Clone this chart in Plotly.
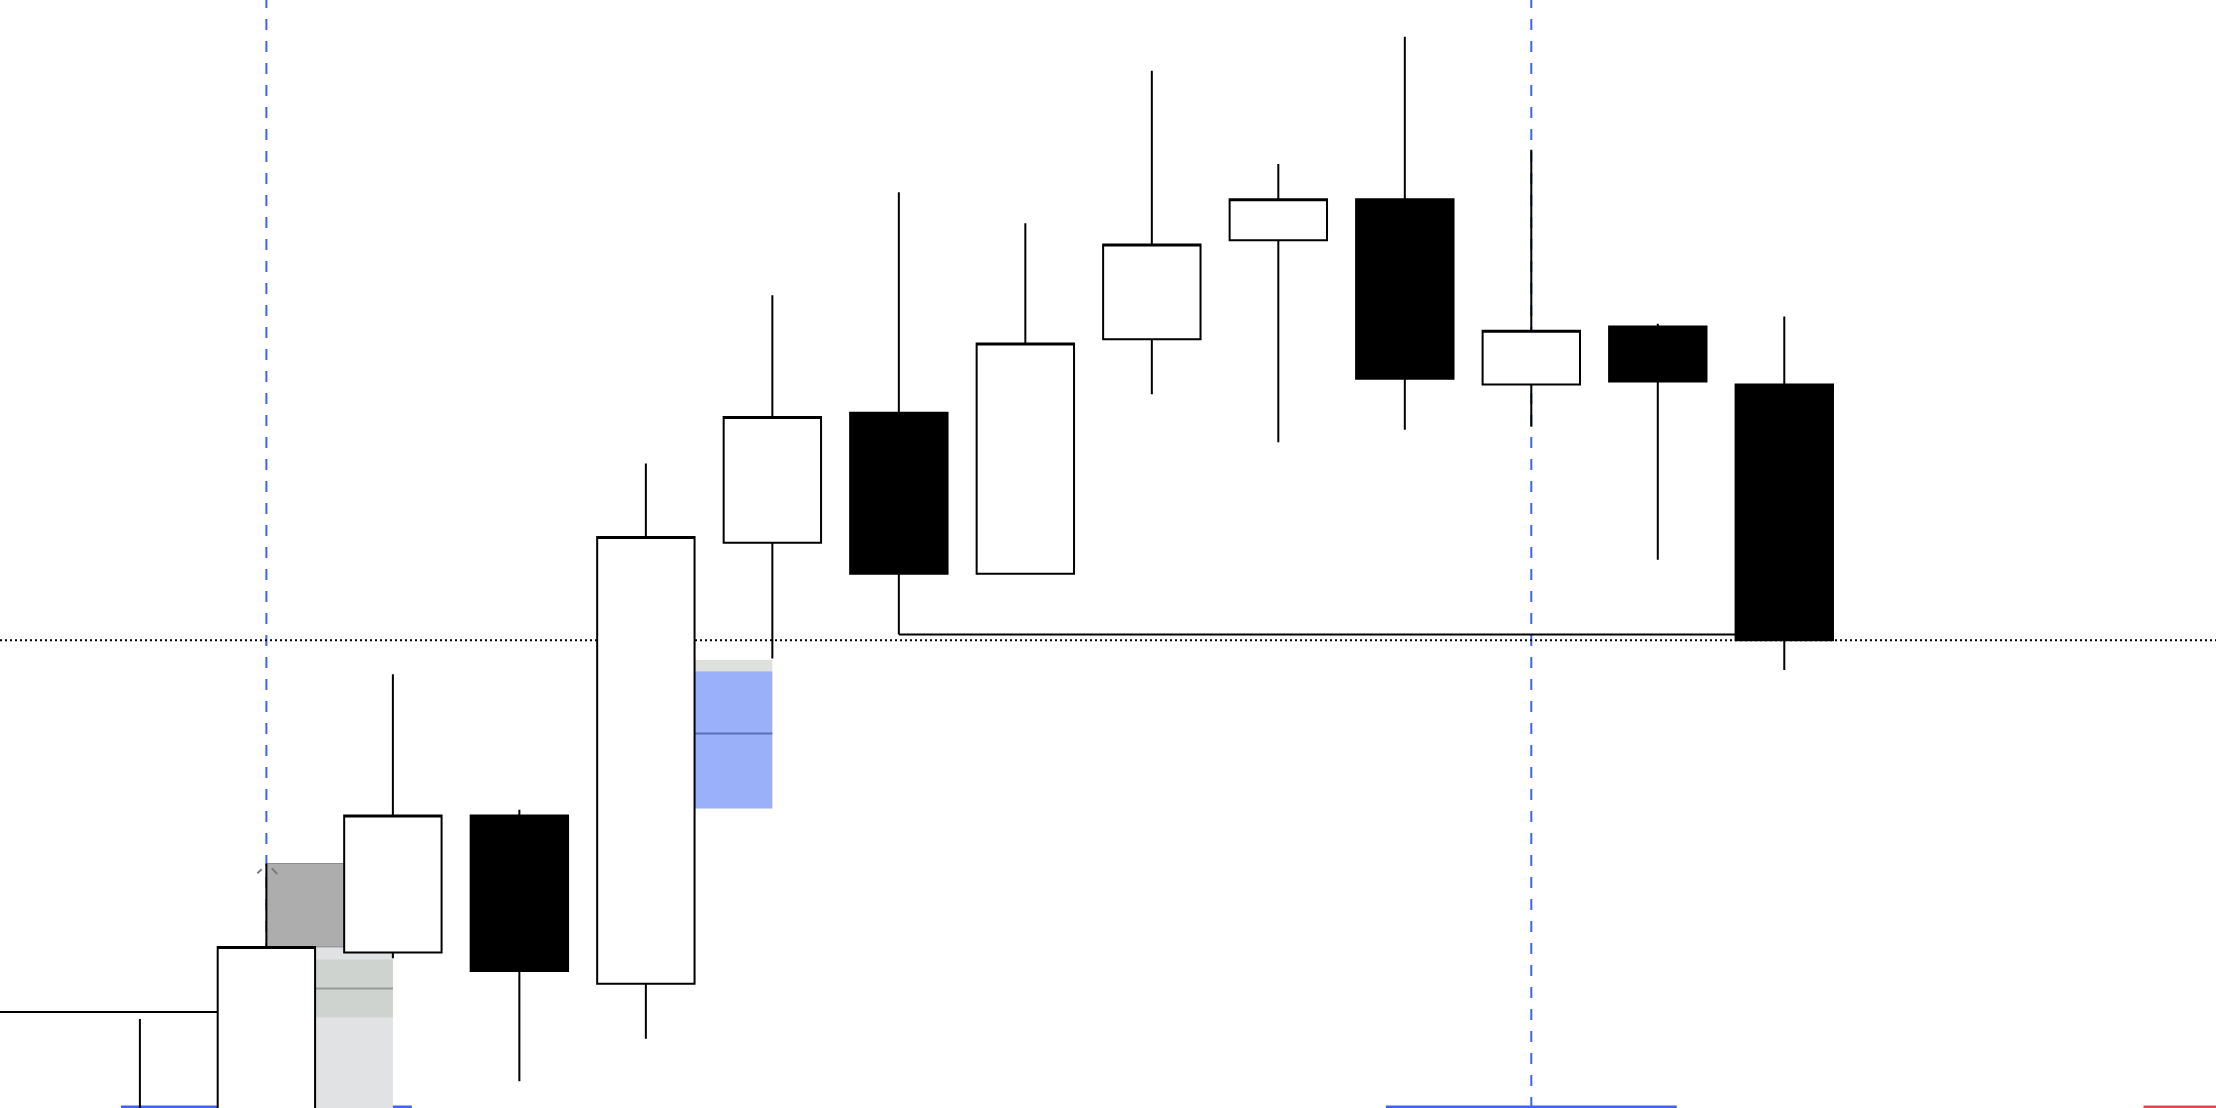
import plotly.graph_objects as go

# candle index along the x axis
idx = list(range(14))

# OHLC (arbitrary point scale, 0 = bottom edge of view)
opens  = [-30, -20, 110, 207,  88, 400, 492, 378, 544, 614, 643, 512, 553, 512]
highs  = [ 63, 173, 307, 211, 456, 575, 648, 626, 734, 668, 758, 678, 555, 560]
lows   = [-60, -50, 106,  19,  49, 318, 335, 378, 505, 471, 480, 482, 388, 310]
closes = [-10, 114, 207,  97, 404, 489, 378, 541, 611, 643, 516, 550, 514, 331]

# levels / zones
last_close = closes[-1]
swing_low = lows[6]          # low of candle 6, held until candle 13
prev_level = 68              # level on far left
marked = [1, 11]             # candles with the blue session markers

gray_zone = (114, 173)       # gray block over candle 1
lite_zone = (-40, 114)       # light block below it
lite_band = (64, 105)
lite_mid = 84.5
blue_zone = (212, 309)
blue_cap = 317
blue_mid = 265

half = 0.385   # half body width in candle units

fig = go.Figure()

fig.add_trace(go.Candlestick(
    x=idx, open=opens, high=highs, low=lows, close=closes,
    increasing=dict(fillcolor="white", line=dict(color="black", width=2)),
    decreasing=dict(fillcolor="black", line=dict(color="black", width=2)),
    whiskerwidth=0,
    hoverinfo="skip",
))

shapes = []

# dashed blue verticals + blue underline at the bottom
for m in marked:
    shapes.append(dict(type="line", xref="x", yref="paper", x0=m, x1=m, y0=0, y1=1,
                       line=dict(color="#3f63f2", width=2, dash="11px,11px"), layer="below"))
    shapes.append(dict(type="line", xref="x", yref="y", x0=m - 1.15, x1=m + 1.15, y0=0.7, y1=0.7,
                       line=dict(color="#3f63f2", width=3), layer="below"))

# red underline on the right
shapes.append(dict(type="line", xref="x", yref="y", x0=15.84, x1=17, y0=0.7, y1=0.7,
                   line=dict(color="#e0474f", width=3), layer="below"))

# light gray zone with darker band
shapes.append(dict(type="rect", x0=1, x1=2, y0=lite_zone[0], y1=lite_zone[1],
                   fillcolor="#e1e2e4", line=dict(width=0), layer="below"))
shapes.append(dict(type="rect", x0=1, x1=2, y0=lite_band[0], y1=lite_band[1],
                   fillcolor="#cfd3cf", line=dict(width=0), layer="below"))
shapes.append(dict(type="line", x0=1, x1=2, y0=lite_mid, y1=lite_mid,
                   line=dict(color="#989b98", width=2), layer="below"))

# gray block
shapes.append(dict(type="rect", x0=1, x1=2, y0=gray_zone[0], y1=gray_zone[1],
                   fillcolor="#adadad", line=dict(color="#8c8c92", width=1), layer="below"))
shapes.append(dict(type="line", x0=0.928, x1=0.963, y0=166.1, y1=168.9,
                   line=dict(color="#7c7c84", width=2), layer="below"))
shapes.append(dict(type="line", x0=1.042, x1=1.086, y0=169.6, y1=165.6,
                   line=dict(color="#7c7c84", width=2), layer="below"))

# blue zone
shapes.append(dict(type="rect", x0=4, x1=5, y0=blue_zone[1], y1=blue_cap,
                   fillcolor="#dde0dd", line=dict(width=0), layer="below"))
shapes.append(dict(type="rect", x0=4, x1=5, y0=blue_zone[0], y1=blue_zone[1],
                   fillcolor="#9ab0f8", line=dict(width=0), layer="below"))
shapes.append(dict(type="line", x0=4, x1=5, y0=blue_mid, y1=blue_mid,
                   line=dict(color="#5a6fb8", width=2), layer="below"))

# swing low line, last close dotted, level on the left
shapes.append(dict(type="line", x0=6, x1=13 - half, y0=swing_low, y1=swing_low,
                   line=dict(color="black", width=2), layer="below"))
shapes.append(dict(type="line", xref="paper", x0=0, x1=1, y0=last_close, y1=last_close,
                   line=dict(color="black", width=2, dash="2px,3px"), layer="below"))
shapes.append(dict(type="line", x0=-2, x1=1 - half, y0=prev_level, y1=prev_level,
                   line=dict(color="black", width=2), layer="below"))

fig.update_layout(
    width=2216, height=1108,
    margin=dict(l=0, r=0, t=0, b=0),
    paper_bgcolor="white", plot_bgcolor="white",
    showlegend=False,
    boxgap=0.23, boxgroupgap=0,
    shapes=shapes,
    xaxis=dict(range=[-1.106, 16.413], visible=False, rangeslider=dict(visible=False)),
    yaxis=dict(range=[0, 784], visible=False),
)

# drop the default page margin so the figure sits at the window corner
fig.write_html("out.html", config={"displayModeBar": False},
               post_script="document.body.style.margin='0';")
